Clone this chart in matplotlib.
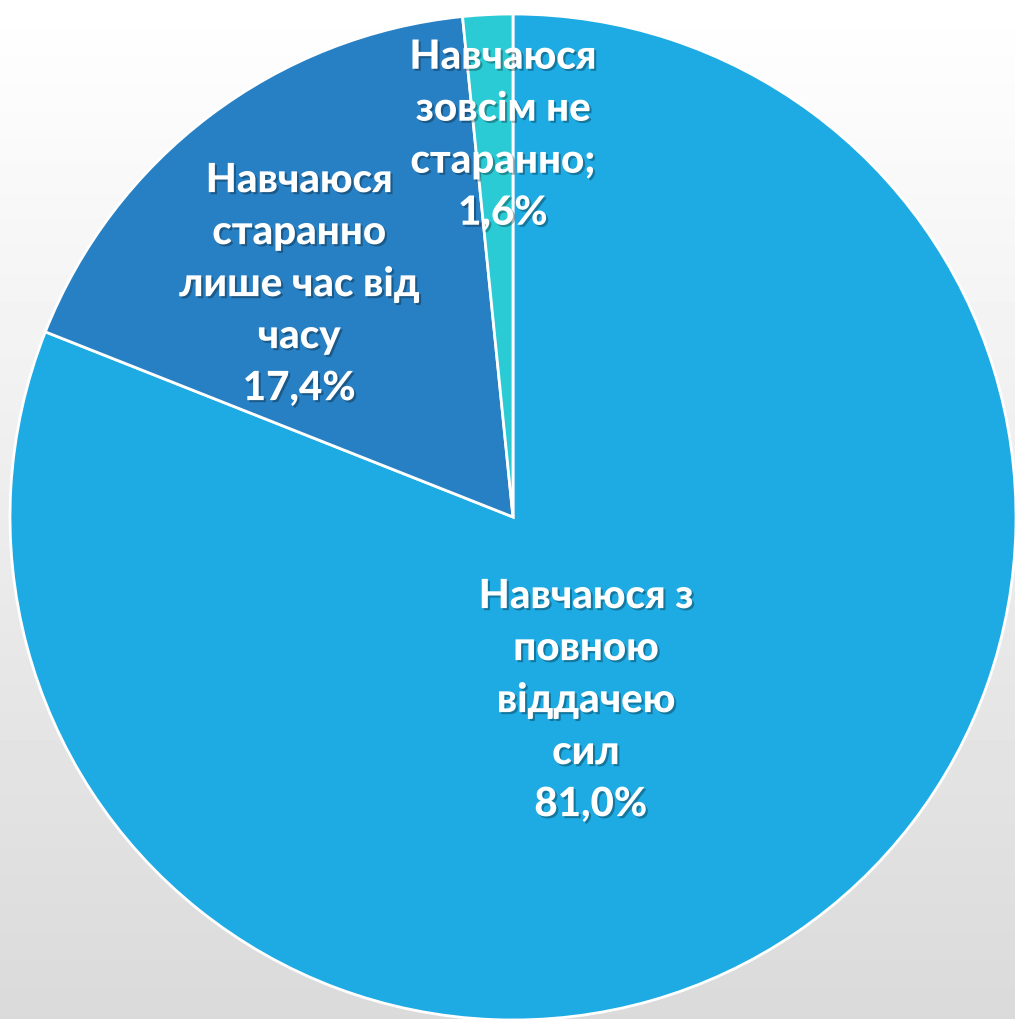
#!/usr/bin/env python3
"""Pie chart: how students rate their own diligence."""

import matplotlib
matplotlib.use("Agg")
import matplotlib.pyplot as plt
import matplotlib.patheffects as pe
import numpy as np

shares = [81.0, 17.4, 1.6]
labels = [
    "Навчаюся з\nповною\nвіддачею\nсил\n 81,0%",
    "Навчаюся\nстаранно\nлише час від\nчасу\n17,4%",
    "Навчаюся\nзовсім не\nстаранно;\n1,6%",
]
colors = ["#1eabe3", "#2780c3", "#2bcbd6"]
label_pos = [(0.145, -0.365), (-0.425, 0.462), (-0.02, 0.759)]

W, H = 1015, 1020
fig = plt.figure(figsize=(W / 100, H / 100), dpi=100)

# vertical background gradient, white at top to light grey at bottom
bg = fig.add_axes([0, 0, 1, 1])
grad = np.linspace(1.0, 0.855, 256).reshape(-1, 1)
bg.imshow(grad, cmap="gray", vmin=0, vmax=1, aspect="auto", extent=(0, 1, 0, 1))
bg.set_axis_off()

cx, cy, r = 513, H - 518, 503
ax = fig.add_axes([(cx - r) / W, (cy - r) / H, 2 * r / W, 2 * r / H])
ax.pie(
    shares,
    colors=colors,
    startangle=90,
    counterclock=False,
    radius=1,
    wedgeprops=dict(edgecolor="white", linewidth=2),
)
ax.set_xlim(-1, 1)
ax.set_ylim(-1, 1)
ax.set_axis_off()

shadow = [pe.SimplePatchShadow(offset=(1.5, -1.5), shadow_rgbFace="black", alpha=0.3), pe.Normal()]
for text, (x, y) in zip(labels, label_pos):
    ax.text(x, y, text, ha="center", va="center", color="white", fontsize=29,
            fontweight=900, family=["Lato", "DejaVu Sans"], linespacing=1.5,
            path_effects=shadow)

fig.savefig("out.png", dpi=100)
